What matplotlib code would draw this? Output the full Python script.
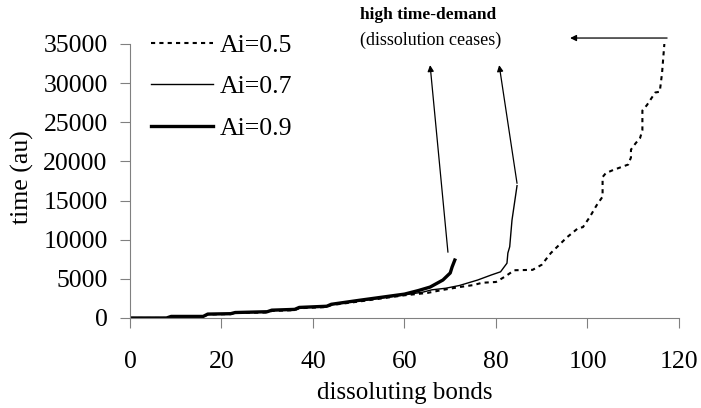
import matplotlib
matplotlib.use('Agg')
import matplotlib.pyplot as plt

# --- data ---
x_05 = [0, 8, 9, 16, 17, 22, 23, 30, 31, 36, 37, 43, 44, 50, 55, 60, 65, 68, 72, 75, 77, 80,
        82, 84, 88, 90, 92, 95.5, 98, 99, 100.5, 102, 103.3, 103.3, 104, 105.6, 107.5, 108.9,
        109.5, 109.5, 110.5, 111.5, 112, 112, 113, 114.8, 115.8, 116.3, 116.8]
y_05 = [0, 0, 150, 150, 450, 500, 650, 700, 900, 1000, 1250, 1400, 1650, 2100, 2500, 2900,
        3200, 3550, 3950, 4200, 4500, 4600, 5300, 6100, 6150, 6800, 8300, 10300, 11500, 11600,
        12900, 14400, 15500, 18000, 18500, 18900, 19300, 19600, 20500, 21500, 22300, 23000,
        24000, 26500, 27200, 28800, 28900, 31300, 35000]

x_07 = [0, 8, 9, 16, 17, 22, 23, 30, 31, 36, 37, 43, 44, 50, 55, 60, 64, 66, 69, 72, 74, 76,
        79, 81, 82.4, 82.6, 83, 83.5, 84.6]
y_07 = [0, 0, 170, 170, 450, 500, 650, 750, 950, 1050, 1300, 1450, 1700, 2150, 2550, 2950,
        3300, 3600, 3800, 4150, 4500, 4850, 5500, 5900, 7000, 8300, 9100, 12500, 16900]

x_09 = [0, 8, 9, 16, 17, 22, 23, 30, 31, 36, 37, 43, 44, 50, 55, 60, 63, 65.6, 68.4, 70,
        70.4, 71]
y_09 = [0, 0, 200, 200, 500, 550, 700, 800, 1000, 1100, 1350, 1500, 1750, 2250, 2650, 3050,
        3500, 3950, 4850, 5750, 6500, 7400]

x_ticks = [0, 20, 40, 60, 80, 100, 120]
y_ticks = [0, 5000, 10000, 15000, 20000, 25000, 30000, 35000]

# arrows: (tail, head) in data coords
arrows = [((69.5, 8400), (65.6, 32300)),
          ((84.6, 17200), (80.7, 32300)),
          ((117.4, 35760), (96.2, 35760))]

plt.rcParams['font.family'] = ['Liberation Serif', 'DejaVu Serif']

fig = plt.figure(figsize=(7.01, 4.08), dpi=100)
ax = fig.add_axes([0.1854, 0.2206, 0.7832, 0.6716])

ax.plot(x_05, y_05, color='black', lw=1.5, linestyle=(0, (2, 2)), label='Ai=0.5')
ax.plot(x_07, y_07, color='black', lw=1.0, label='Ai=0.7')
ax.plot(x_09, y_09, color='black', lw=2.4, label='Ai=0.9')

ax.set_xlim(0, 120)
ax.set_ylim(0, 35000)
ax.set_xticks(x_ticks)
ax.set_yticks(y_ticks)
for s in ['top', 'right']:
    ax.spines[s].set_visible(False)
for s in ['left', 'bottom']:
    ax.spines[s].set_color('#808080')
ax.tick_params(direction='out', length=7, color='#808080', labelsize=18.5)
ax.tick_params(axis='x', pad=17)
ax.tick_params(axis='y', pad=9)

ax.set_xlabel('dissoluting bonds', fontsize=18, labelpad=6)
fig.text(22 / 701, 1 - 177 / 408, 'time (au)', fontsize=18.5, rotation=90,
         ha='center', va='center')

leg = ax.legend(loc='upper left', bbox_to_anchor=(0.02, 1.075),
                frameon=False, fontsize=18.5, handlelength=2.4, handletextpad=0.25,
                labelspacing=0.73, borderaxespad=0)

for (tail, head) in arrows:
    ax.annotate('', xy=head, xytext=tail, annotation_clip=False,
                arrowprops=dict(arrowstyle='-|>', color='black', lw=0.9,
                                mutation_scale=9, shrinkA=0, shrinkB=0))

fig.text(360 / 701, 1 - 15 / 408, 'high time-demand', fontsize=12.5,
         fontweight='bold', ha='left', va='center')
fig.text(360 / 701, 1 - 40 / 408, '(dissolution ceases)', fontsize=13,
         ha='left', va='center')

fig.savefig('out.png', dpi=100)
